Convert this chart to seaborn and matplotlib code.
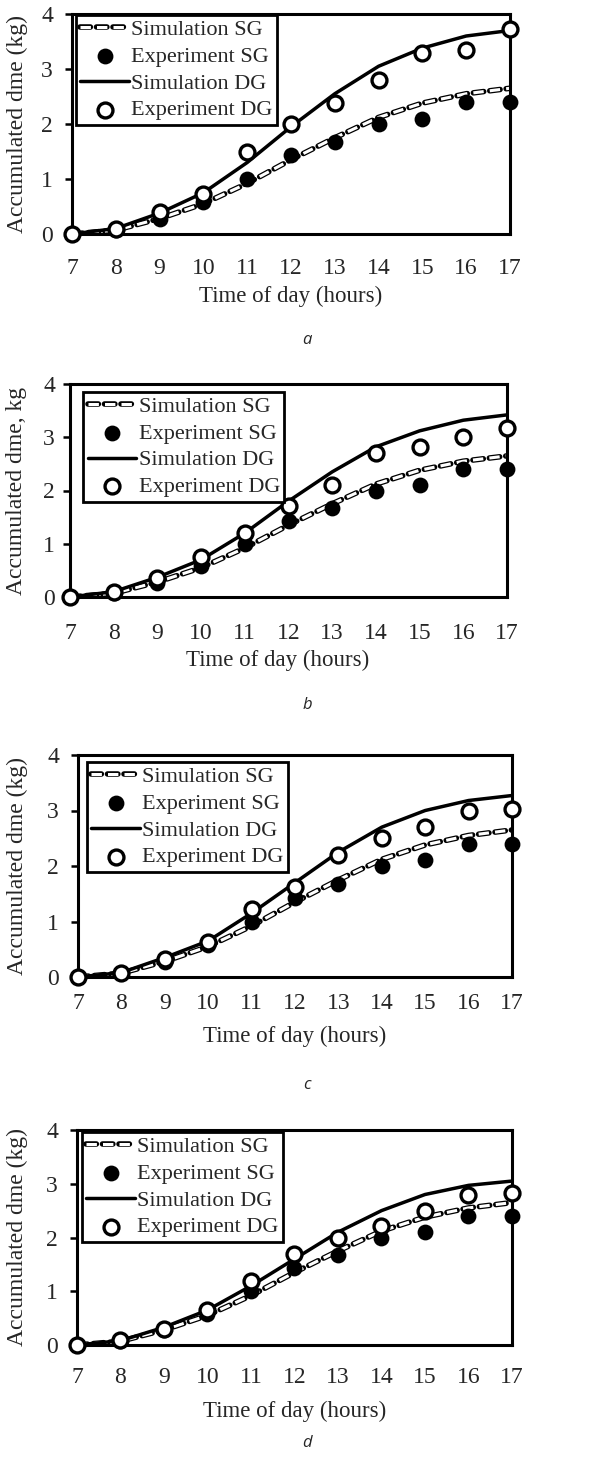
import matplotlib
matplotlib.use("Agg")
import matplotlib.pyplot as plt
import matplotlib.patheffects as pe
import seaborn as sns

sns.set_style("white")
plt.rcParams['font.family'] = ['Liberation Serif', 'DejaVu Serif']

hours = [7, 8, 9, 10, 11, 12, 13, 14, 15, 16, 17]

# single glazing (same in every panel)
sim_sg = [0, 0.07, 0.28, 0.55, 0.92, 1.35, 1.75, 2.12, 2.38, 2.55, 2.65]
exp_sg = [0, 0.08, 0.27, 0.58, 1.0, 1.43, 1.68, 2.0, 2.1, 2.4, 2.4]

# double glazing, panels a-d
sim_dg_a = [0, 0.1, 0.38, 0.75, 1.3, 1.95, 2.55, 3.05, 3.38, 3.6, 3.7]
exp_dg_a = [0, 0.1, 0.4, 0.72, 1.5, 2.0, 2.38, 2.8, 3.3, 3.35, 3.73]
sim_dg_b = [0, 0.1, 0.37, 0.7, 1.2, 1.8, 2.35, 2.82, 3.12, 3.32, 3.42]
exp_dg_b = [0, 0.1, 0.35, 0.75, 1.2, 1.7, 2.1, 2.7, 2.82, 3.0, 3.18]
sim_dg_c = [0, 0.08, 0.35, 0.65, 1.15, 1.7, 2.25, 2.7, 3.0, 3.18, 3.27]
exp_dg_c = [0, 0.08, 0.33, 0.63, 1.22, 1.62, 2.2, 2.5, 2.7, 3.0, 3.03]
sim_dg_d = [0, 0.08, 0.33, 0.65, 1.1, 1.6, 2.1, 2.5, 2.8, 2.97, 3.05]
exp_dg_d = [0, 0.1, 0.3, 0.65, 1.2, 1.7, 2.0, 2.22, 2.5, 2.8, 2.83]

# tag, data, y label, axes box (px), legend anchor, tag y (px), x pad, y pad, xlabel coords, ylabel x
panels = [
    ('a', sim_dg_a, exp_dg_a, 'Accumulated dme (kg)', [72, 14, 510, 234],
     (0.009, 0.995), 340, 17, 8.7, (0.5, -0.236), -0.100),
    ('b', sim_dg_b, exp_dg_b, 'Accumulated dme, kg', [70, 384, 507, 597],
     (0.03, 0.963), 705, 18.5, 5.8, (0.476, -0.249), -0.098),
    ('c', sim_dg_c, exp_dg_c, 'Accumulated dme (kg)', [78, 755, 512, 977],
     (0.02, 0.968), 1085, 11.5, 8.7, (0.5, -0.22), -0.115),
    ('d', sim_dg_d, exp_dg_d, 'Accumulated dme (kg)', [77, 1130, 512, 1345],
     (0.011, 0.99), 1443, 15.8, 8.7, (0.5, -0.26), -0.113),
]

W, H = 615, 1461
fig = plt.figure(figsize=(W / 100, H / 100), dpi=100)

for tag, sim_dg, exp_dg, ylab, box, leg_pos, tag_y, xpad, ypad, xl_xy, yl_x in panels:
    x0, y0, x1, y1 = box
    ax = fig.add_axes([x0 / W, 1 - y1 / H, (x1 - x0) / W, (y1 - y0) / H])

    sns.lineplot(x=hours, y=sim_sg, ax=ax, color='white', lw=2.2,
                 linestyle=(0, (3.4, 2.0)), label='Simulation SG',
                 path_effects=[pe.Stroke(linewidth=4.0, foreground='black', capstyle='round'),
                               pe.Normal()])
    sns.scatterplot(x=hours, y=exp_sg, ax=ax, color='black', s=130,
                    edgecolor='black', linewidth=0, label='Experiment SG',
                    clip_on=False, zorder=4)
    sns.lineplot(x=hours, y=sim_dg, ax=ax, color='black', lw=2.5,
                 label='Simulation DG')
    sns.scatterplot(x=hours, y=exp_dg, ax=ax, facecolor='white', s=115,
                    edgecolor='black', linewidth=2.4, label='Experiment DG',
                    clip_on=False, zorder=5)

    ax.set_xlim(7, 17)
    ax.set_ylim(0, 4)
    ax.set_xticks(hours)
    ax.set_yticks([0, 1, 2, 3, 4])
    ax.tick_params(axis='x', labelsize=17, length=0, pad=xpad)
    ax.tick_params(axis='y', labelsize=17, length=5, width=1.8, color='black',
                   direction='out', left=True, pad=ypad)
    ax.set_xlabel('Time of day (hours)', fontsize=16.5)
    ax.set_ylabel(ylab, fontsize=17)
    ax.xaxis.set_label_coords(*xl_xy)
    ax.yaxis.set_label_coords(yl_x, 0.5)
    for sp in ax.spines.values():
        sp.set_color('black')
        sp.set_linewidth(2.2)

    leg = ax.legend(loc='upper left', bbox_to_anchor=leg_pos, fontsize=16,
                    frameon=True, fancybox=False, framealpha=1,
                    edgecolor='black', borderpad=0.2, labelspacing=0.28,
                    handlelength=2.2, handletextpad=0.1, borderaxespad=0)
    leg.get_frame().set_linewidth(2.0)

    fig.text(307 / W, 1 - tag_y / H, tag, ha='center', va='center',
             fontsize=12, style='italic', family=['Open Sans', 'DejaVu Sans'])

fig.savefig('out.png', dpi=100)
